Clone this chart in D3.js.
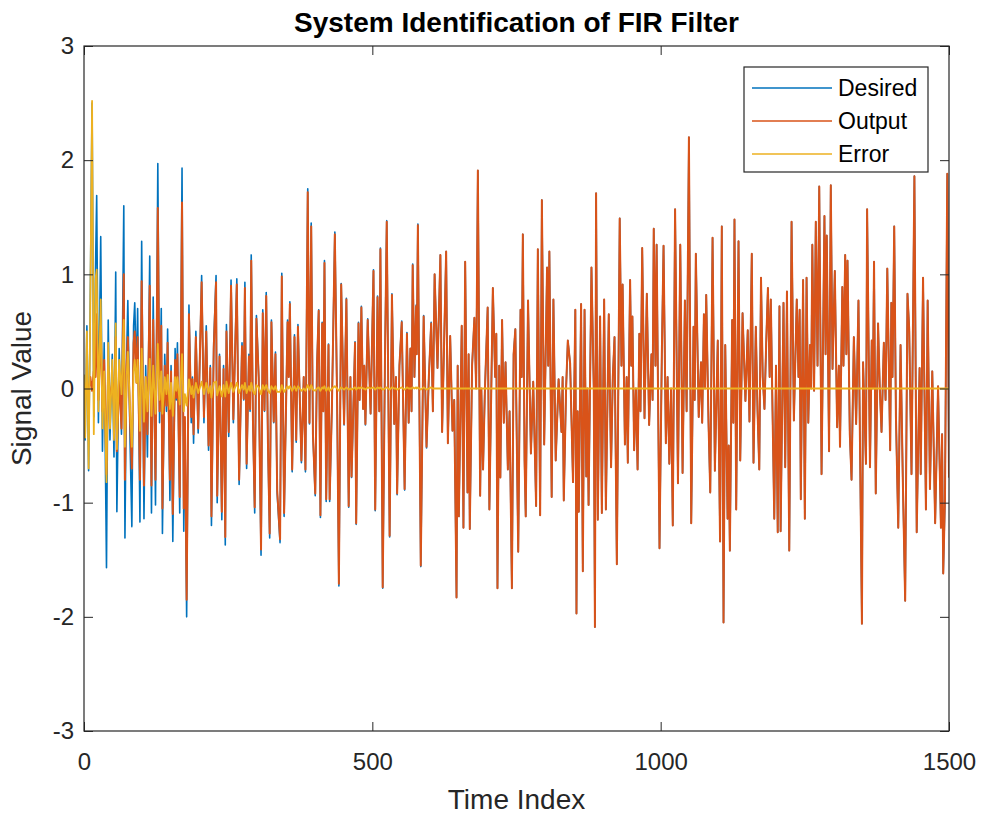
<!DOCTYPE html>
<html>
<head>
<meta charset="utf-8">
<script src="https://cdn.jsdelivr.net/npm/d3@7"></script>
<style>
  body { margin: 0; background: #fff; }
  svg { display: block; font-family: "Liberation Sans", Arial, sans-serif; }
</style>
</head>
<body>
<div id="vis"></div>
<script>
const FRAME_WIDTH = 982;
const FRAME_HEIGHT = 815;
const MARGINS = {left: 84, right: 33, top: 46, bottom: 84};

const VIS_WIDTH = FRAME_WIDTH - MARGINS.left - MARGINS.right;
const VIS_HEIGHT = FRAME_HEIGHT - MARGINS.top - MARGINS.bottom;

// tick values and names
const X_TICKS = [0, 500, 1000, 1500];
const Y_TICKS = [-3, -2, -1, 0, 1, 2, 3];
const SERIES_NAMES = ["Desired", "Output", "Error"];
const SERIES_COLORS = ["#0072BD", "#D95319", "#EDB120"];

// time index of each point (peaks and troughs)
const TIME_INDEX = [
  0,2,5,8,11,14,17,20,22,25,
  29,32,35,39,42,45,49,52,55,57,
  61,65,69,71,74,76,80,83,86,88,
  91,93,97,100,104,107,110,114,117,120,
  124,128,131,134,136,140,143,145,149,151,
  154,158,160,162,166,170,173,175,178,182,
  186,188,190,194,198,204,208,212,216,219,
  221,225,229,231,235,239,242,245,247,251,
  255,259,265,269,274,277,279,282,286,288,
  290,293,296,299,303,307,310,313,316,319,
  322,325,329,
  332,335,340,343,347,353,355,357,361,365,
  368,371,377,381,384,388,391,394,397,401,
  404,407,410,413,415,417,420,424,426,430,
  435,439,442,446,451,455,459,462,464,470,
  472,476,478,481,484,486,488,492,497,502,
  505,509,512,514,518,522,525,530,534,538,
  541,543,547,551,556,560,563,566,568,570,
  573,576,577,579,584,589,594,598,602,605,
  608,613,618,621,628,631,635,639,642,646,
  648,650,655,658,661,665,667,669,673,677,
  680,683,687,689,692,695,700,703,709,713,
  715,717,720,722,725,728,731,735,738,742,
  745,748,753,757,759,761,764,766,770,775,
  779,784,787,791,794,798,803,805,807,811,
  814,818,823,828,830,832,836,839,843,848,
  852,854,856,858,862,865,868,871,873,875,
  880,884,886,888,891,895,898,902,905,910,
  914,917,920,924,929,932,934,938,941,943,
  947,949,951,954,957,960,963,965,968,972,
  976,980,984,986,988,991,993,998,1002,1005,
  1009,1012,1015,1018,1021,1025,1030,1034,1038,1042,
  1045,1049,1053,1057,1059,1061,1066,1070,1072,1075,
  1077,1079,1083,1086,1090,1094,1099,1103,1106,1109,
  1112,1116,1118,1120,1124,1126,1128,1131,1135,1138,
  1142,1147,1151,1154,1158,1161,1165,1168,1171,1174,
  1177,1180,1183,1186,1189,1191,1194,1197,1200,1203,
  1206,1208,1213,1216,1219,1223,1227,1231,1236,1239,
  1241,1243,1247,1250,1253,1256,1259,1261,1263,1266,
  1269,1272,1275,1279,1284,1286,1288,1292,1295,1298,
  1302,1306,1309,1311,1315,1317,1320,1322,1324,1328,
  1331,1335,1339,1343,1349,1351,1356,1358,1363,1366,
  1368,1370,1373,1377,1380,1383,1387,1390,1393,1398,
  1400,1402,1405,1408,1412,1416,1420,1424,1428,1431,
  1435,1440,1444,1449,1451,1455,1460,1463,1467,1471,
  1476,1481,1486,1488,1490,1493,1497,1500
];

const DESIRED = [
  .12,-.45,.55,-.72,.85,2.50,-.25,1.06,1.69,-.30,
  1.33,-.55,.40,-1.57,.60,-.45,.30,-.60,1.02,-1.08,
  .35,-.40,1.60,-1.31,.30,.77,-.50,-1.21,.55,.75,
  .10,.70,-1.17,1.29,-1.14,.20,-.60,1.16,-1.09,.80,
  -1.02,1.97,-.30,.70,-1.27,.30,-.20,.52,-.98,.20,
  -1.34,.35,-.10,.40,-1.09,1.93,-1.25,-.30,-2.00,.73,
  -.30,.10,-.48,.50,-.39,.99,-.30,.55,-.54,.20,
  -1.20,.40,.99,-1.00,.30,-1.15,.20,-1.37,.56,-.42,
  .95,-.30,.96,-.84,.40,-.10,.93,-.70,.30,-.20,
  1.17,-.30,-1.09,.64,.10,-1.46,.69,-.20,.84,-.50,
  -1.31,.60,-.30,
  .32,-.92,-1.35,1.01,-1.12,.60,.10,.76,-.73,.47,
  -.47,.56,-.65,.10,-.73,1.75,-.31,1.45,-.41,-.94,
  .20,.69,-1.13,.58,-.20,1.12,-.99,.39,-.99,-.14,
  1.37,-.15,-1.73,.92,-.32,.79,-1.04,.10,-.78,.41,
  -1.19,.58,-.10,.72,-.18,.20,-.32,.61,-.22,1.04,
  -1.07,.81,-.20,1.23,-1.75,.30,1.47,-1.30,.83,-.31,
  .10,-.93,.20,.59,-.89,.49,-.30,.35,-.20,1.09,
  .10,.73,.30,1.44,-1.56,.64,-.52,.10,.58,-.20,
  1.00,.18,1.17,-.38,1.20,-.48,.46,-.37,-.10,-1.83,
  .20,-1.12,.55,-1.22,1.11,-.91,.30,-1.23,.20,.62,
  .00,1.91,-.94,.00,-.71,-.05,.71,-1.06,.88,.10,
  .48,-1.75,.20,-.78,.60,-.30,.23,-.71,-.20,-1.75,
  .30,.52,-1.43,.69,.10,1.35,-.63,-1.12,.77,-.57,
  .06,-1.03,1.22,-1.11,1.65,-.49,1.06,.20,1.20,-.95,
  .78,-.63,.08,-.38,.10,-.98,.00,.42,.22,-.82,
  .69,-1.97,-.20,-1.08,.74,-1.60,.69,-.77,.00,-1.02,
  1.06,.00,-2.09,1.71,-1.15,.63,-1.09,.78,-1.06,.65,
  -.69,.10,.45,-1.54,1.49,.20,.91,-.49,.10,-.65,
  .95,.20,.63,-.54,.00,-.71,.48,-.20,1.23,-.26,
  .83,-.32,.30,-.10,1.40,.20,1.26,-1.40,.30,1.25,
  -.48,.10,-.66,.00,-1.20,1.57,-.83,1.26,-.74,.77,
  -.20,2.20,-1.18,.54,-.10,1.18,-.25,.23,-.30,.65,
  .00,.82,-.30,-.91,1.32,-.72,.42,-1.34,1.42,-2.05,
  .38,-1.14,-.50,-1.42,.60,-.30,1.48,-1.06,1.29,-.63,
  .66,-.11,.51,-.29,1.18,-.65,.54,-.20,-.71,.97,
  .10,-.18,.40,.88,.10,.78,-.20,-1.14,.20,-1.26,
  .72,-1.25,.75,-.69,.85,-1.42,1.46,-.28,.78,.10,
  .69,-.97,.95,-1.14,.97,-.30,.38,.00,1.26,-.02,
  1.46,.20,1.77,-.75,1.51,.30,1.34,-.55,1.78,.17,
  1.03,-.34,.20,-.51,.89,.20,1.17,.30,1.12,-.40,
  -.80,.45,-.31,.77,-2.06,.23,-.66,1.57,-.69,.42,
  .00,1.11,-.92,.57,.00,-.38,.40,-.10,1.05,-.54,
  .75,.10,1.42,-.25,-1.22,.38,-.82,-1.86,.83,.52,
  -.75,1.86,-1.26,.18,-.75,.97,-1.06,.77,-.88,.15,
  -1.18,.02,-1.22,-.40,-1.62,-.97,1.88,-.78
];

const OUTPUT = [
  0,-.02,.05,-.02,.10,-.02,.15,.10,.65,-.10,
  .55,-.20,.25,-.75,.20,-.10,.05,-.15,.45,-.55,
  .10,-.35,1.00,-.80,.20,.45,-.30,-.70,.40,.50,
  .05,.45,-.80,.94,-.85,.10,-.40,.90,-.85,.60,
  -.80,1.58,-.20,.55,-1.05,.20,-.15,.40,-.80,.15,
  -1.10,.25,-.08,.30,-.95,1.63,-1.05,-.25,-1.85,.65,
  -.25,.08,-.40,.45,-.35,.93,-.25,.50,-.50,.18,
  -1.12,.35,.93,-.94,.28,-1.08,.17,-1.30,.50,-.38,
  .90,-.27,.91,-.80,.37,-.09,.88,-.66,.28,-.18,
  1.12,-.28,-1.04,.61,.09,-1.41,.66,-.19,.81,-.48,
  -1.27,.58,-.29,
  .30,-.89,-1.32,.98,-1.09,.58,.10,.74,-.71,.45,
  -.45,.54,-.63,.10,-.71,1.72,-.30,1.42,-.40,-.92,
  .20,.68,-1.11,.57,-.20,1.10,-.97,.38,-.97,-.14,
  1.35,-.15,-1.71,.91,-.31,.78,-1.03,.10,-.77,.40,
  -1.18,.57,-.10,.71,-.18,.20,-.31,.60,-.22,1.03,
  -1.06,.80,-.20,1.22,-1.74,.30,1.46,-1.29,.82,-.31,
  .10,-.92,.20,.58,-.88,.48,-.30,.35,-.20,1.08,
  .10,.72,.30,1.43,-1.55,.63,-.51,.10,.57,-.20,
  1.00,.18,1.17,-.38,1.20,-.48,.46,-.37,-.10,-1.83,
  .20,-1.12,.55,-1.22,1.11,-.91,.30,-1.23,.20,.62,
  .00,1.91,-.94,.00,-.71,-.05,.71,-1.06,.88,.10,
  .48,-1.75,.20,-.78,.60,-.30,.23,-.71,-.20,-1.75,
  .30,.52,-1.43,.69,.10,1.35,-.63,-1.12,.77,-.57,
  .06,-1.03,1.22,-1.11,1.65,-.49,1.06,.20,1.20,-.95,
  .78,-.63,.08,-.38,.10,-.98,.00,.42,.22,-.82,
  .69,-1.97,-.20,-1.08,.74,-1.60,.69,-.77,.00,-1.02,
  1.06,.00,-2.09,1.71,-1.15,.63,-1.09,.78,-1.06,.65,
  -.69,.10,.45,-1.54,1.49,.20,.91,-.49,.10,-.65,
  .95,.20,.63,-.54,.00,-.71,.48,-.20,1.23,-.26,
  .83,-.32,.30,-.10,1.40,.20,1.26,-1.40,.30,1.25,
  -.48,.10,-.66,.00,-1.20,1.57,-.83,1.26,-.74,.77,
  -.20,2.20,-1.18,.54,-.10,1.18,-.25,.23,-.30,.65,
  .00,.82,-.30,-.91,1.32,-.72,.42,-1.34,1.42,-2.05,
  .38,-1.14,-.50,-1.42,.60,-.30,1.48,-1.06,1.29,-.63,
  .66,-.11,.51,-.29,1.18,-.65,.54,-.20,-.71,.97,
  .10,-.18,.40,.88,.10,.78,-.20,-1.14,.20,-1.26,
  .72,-1.25,.75,-.69,.85,-1.42,1.46,-.28,.78,.10,
  .69,-.97,.95,-1.14,.97,-.30,.38,.00,1.26,-.02,
  1.46,.20,1.77,-.75,1.51,.30,1.34,-.55,1.78,.17,
  1.03,-.34,.20,-.51,.89,.20,1.17,.30,1.12,-.40,
  -.80,.45,-.31,.77,-2.06,.23,-.66,1.57,-.69,.42,
  .00,1.11,-.92,.57,.00,-.38,.40,-.10,1.05,-.54,
  .75,.10,1.42,-.25,-1.22,.38,-.82,-1.86,.83,.52,
  -.75,1.86,-1.26,.18,-.75,.97,-1.06,.77,-.88,.15,
  -1.18,.02,-1.22,-.40,-1.62,-.97,1.88,-.78
];

const ERROR = [
  .12,-.43,.50,-.70,.75,2.52,-.40,.96,1.04,-.20,
  .78,-.35,.15,-.82,.40,-.35,.25,-.45,.57,-.53,
  .25,-.05,.60,-.51,.10,.32,-.20,-.51,.15,.25,
  .05,.25,-.37,.35,-.29,.10,-.20,.26,-.24,.20,
  -.22,.39,-.10,.15,-.22,.10,-.05,.12,-.18,.05,
  -.24,.10,-.02,.10,-.14,.30,-.20,-.05,-.15,.08,
  -.05,.02,-.08,.05,-.04,.06,-.05,.05,-.04,.02,
  -.08,.05,.06,-.06,.02,-.07,.03,-.07,.06,-.04,
  .05,-.03,.05,-.04,.03,-.01,.05,-.04,.02,-.02,
  .05,-.02,-.05,.03,.01,-.05,.03,-.01,.03,-.02,
  -.04,.02,-.01,
  .02,-.03,-.03,.03,-.03,.02,0,.02,-.02,.02,
  -.02,.02,-.02,0,-.02,.03,-.01,.03,-.01,-.02,
  0,.01,-.02,.01,0,.02,-.02,.01,-.02,0,
  .02,0,-.02,.01,-.01,.01,-.01,0,-.01,.01,
  -.01,.01,0,.01,0,0,-.01,.01,0,.01,
  -.01,.01,0,.01,-.01,0,.01,-.01,.01,0,
  0,-.01,0,.01,-.01,.01,0,0,0,.01,
  0,.01,0,.01,-.01,.01,-.01,0,.01,0,
  0,0,0,0,0,0,0,0,0,0,  // 608
  0,0,0,0,0,0,0,0,0,0,  // 648
  0,0,0,0,0,0,0,0,0,0,  // 680
  0,0,0,0,0,0,0,0,0,0,  // 715
  0,0,0,0,0,0,0,0,0,0,  // 745
  0,0,0,0,0,0,0,0,0,0,  // 779
  0,0,0,0,0,0,0,0,0,0,  // 814
  0,0,0,0,0,0,0,0,0,0,  // 852
  0,0,0,0,0,0,0,0,0,0,  // 880
  0,0,0,0,0,0,0,0,0,0,  // 914
  0,0,0,0,0,0,0,0,0,0,  // 947
  0,0,0,0,0,0,0,0,0,0,  // 976
  0,0,0,0,0,0,0,0,0,0,  // 1009
  0,0,0,0,0,0,0,0,0,0,  // 1045
  0,0,0,0,0,0,0,0,0,0,  // 1077
  0,0,0,0,0,0,0,0,0,0,  // 1112
  0,0,0,0,0,0,0,0,0,0,  // 1142
  0,0,0,0,0,0,0,0,0,0,  // 1177
  0,0,0,0,0,0,0,0,0,0,  // 1206
  0,0,0,0,0,0,0,0,0,0,  // 1241
  0,0,0,0,0,0,0,0,0,0,  // 1269
  0,0,0,0,0,0,0,0,0,0,  // 1302
  0,0,0,0,0,0,0,0,0,0,  // 1331
  0,0,0,0,0,0,0,0,0,0,  // 1368
  0,0,0,0,0,0,0,0,0,0,  // 1400
  0,0,0,0,0,0,0,0,0,0,  // 1435
  0,0,0,0,0,0,0,0       // 1476
];

const AXIS_COLOR = "#262626";

const X_SCALE = d3.scaleLinear()
                  .domain([0, 1500])
                  .range([0, VIS_WIDTH]);

const Y_SCALE = d3.scaleLinear()
                  .domain([-3, 3])
                  .range([VIS_HEIGHT, 0]);

const FRAME = d3.select("#vis")
                .append("svg")
                  .attr("width", FRAME_WIDTH)
                  .attr("height", FRAME_HEIGHT);

FRAME.append("rect")
     .attr("width", FRAME_WIDTH)
     .attr("height", FRAME_HEIGHT)
     .attr("fill", "#ffffff");

const PLOT = FRAME.append("g")
                  .attr("transform", "translate(" + MARGINS.left + "," + MARGINS.top + ")");

PLOT.append("clipPath")
    .attr("id", "plot-clip")
  .append("rect")
    .attr("width", VIS_WIDTH)
    .attr("height", VIS_HEIGHT);

// one row per series, all on the same time index
const SERIES = [DESIRED, OUTPUT, ERROR].map((vals, i) => {
  return {name: SERIES_NAMES[i], color: SERIES_COLORS[i],
          points: TIME_INDEX.map((t, j) => [t, vals[j]])};
});

// desired sits under output, so keep it a bit thinner
const WIDTHS = [1.6, 2.0, 1.8];

const LINE = d3.line()
               .x((d) => X_SCALE(d[0]))
               .y((d) => Y_SCALE(d[1]));

// lines drawn in order so error sits on top like matlab
PLOT.append("g")
    .attr("clip-path", "url(#plot-clip)")
  .selectAll("path")
  .data(SERIES)
  .enter()
  .append("path")
    .attr("d", (d) => LINE(d.points))
    .attr("fill", "none")
    .attr("stroke", (d) => d.color)
    .attr("stroke-width", (d, i) => WIDTHS[i])
    .attr("stroke-linejoin", "round");

// axes with inward ticks on all four sides
function styleAxis(g) {
  g.select(".domain").remove();
  g.selectAll(".tick line").attr("stroke", AXIS_COLOR);
  g.selectAll(".tick text")
   .attr("fill", AXIS_COLOR)
   .attr("font-size", "24px")
   .attr("font-family", '"Liberation Sans", Arial, sans-serif');
}

const TICK_FMT = (d) => String(d);

PLOT.append("g")
    .attr("transform", "translate(0," + VIS_HEIGHT + ")")
    .call(d3.axisBottom(X_SCALE).tickValues(X_TICKS).tickFormat(TICK_FMT)
            .tickSizeInner(-9).tickSizeOuter(0).tickPadding(22))
    .call(styleAxis);

PLOT.append("g")
    .call(d3.axisTop(X_SCALE).tickValues(X_TICKS).tickSizeInner(-9).tickSizeOuter(0).tickFormat(""))
    .call(styleAxis);

PLOT.append("g")
    .call(d3.axisLeft(Y_SCALE).tickValues(Y_TICKS).tickFormat(TICK_FMT)
            .tickSizeInner(-9).tickSizeOuter(0).tickPadding(10))
    .call(styleAxis);

PLOT.append("g")
    .attr("transform", "translate(" + VIS_WIDTH + ",0)")
    .call(d3.axisRight(Y_SCALE).tickValues(Y_TICKS).tickSizeInner(-9).tickSizeOuter(0).tickFormat(""))
    .call(styleAxis);

// box around the axes
PLOT.append("rect")
    .attr("width", VIS_WIDTH)
    .attr("height", VIS_HEIGHT)
    .attr("fill", "none")
    .attr("stroke", AXIS_COLOR)
    .attr("stroke-width", 1.2);

// title and labels
FRAME.append("text")
     .attr("x", MARGINS.left + VIS_WIDTH / 2)
     .attr("y", 32)
     .attr("text-anchor", "middle")
     .attr("font-size", "28px")
     .attr("font-weight", "bold")
     .attr("fill", "#000")
     .text("System Identification of FIR Filter");

FRAME.append("text")
     .attr("x", MARGINS.left + VIS_WIDTH / 2)
     .attr("y", 809)
     .attr("text-anchor", "middle")
     .attr("font-size", "28px")
     .attr("fill", AXIS_COLOR)
     .text("Time Index");

FRAME.append("text")
     .attr("transform", "translate(31," + (MARGINS.top + VIS_HEIGHT / 2) + ") rotate(-90)")
     .attr("text-anchor", "middle")
     .attr("font-size", "28px")
     .attr("fill", AXIS_COLOR)
     .text("Signal Value");

// legend
const LEGEND = FRAME.append("g")
                    .attr("transform", "translate(744,67)");

LEGEND.append("rect")
      .attr("width", 184)
      .attr("height", 105)
      .attr("fill", "#ffffff")
      .attr("stroke", AXIS_COLOR)
      .attr("stroke-width", 1.2);

const LEGEND_ROWS = LEGEND.selectAll(".legend-row")
                          .data(SERIES)
                          .enter()
                          .append("g")
                            .attr("class", "legend-row")
                            .attr("transform", (d, i) => "translate(0," + (21 + i * 33) + ")");

LEGEND_ROWS.append("line")
           .attr("x1", 8)
           .attr("x2", 88)
           .attr("stroke", (d) => d.color)
           .attr("stroke-width", 1.6);

LEGEND_ROWS.append("text")
           .attr("x", 94)
           .attr("dy", "0.35em")
           .attr("font-size", "23px")
           .attr("fill", "#000")
           .text((d) => d.name);
</script>
</body>
</html>
